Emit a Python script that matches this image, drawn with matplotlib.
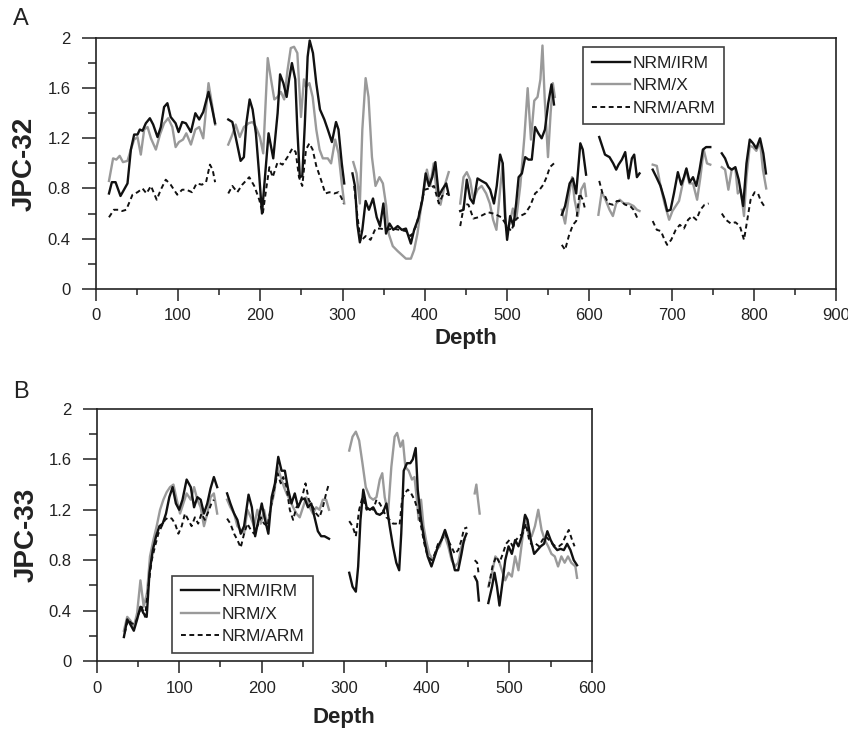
import numpy as np
import matplotlib
matplotlib.use("Agg")
import matplotlib.pyplot as plt
from matplotlib.ticker import MultipleLocator, FuncFormatter
from matplotlib.lines import Line2D

plt.rcParams["font.family"] = ["Liberation Sans", "DejaVu Sans"]

# (depth, ratio) pairs; None marks a gap in the record
# ---- Panel A: JPC-32 ----
A_IRM = [(16, 0.76), (19.5, 0.85), (24, 0.85), (30, 0.74), (38.5, 0.84), (42.6, 1.11), (46.6, 1.23),
         (50.7, 1.23), (53.5, 1.27), (56.8, 1.26), (60.8, 1.32), (65.7, 1.36), (69.7, 1.31), (75, 1.21),
         (79, 1.29), (83, 1.45), (87, 1.48), (91, 1.37), (97, 1.32), (100.6, 1.25), (105, 1.33),
         (109.5, 1.32), (115.6, 1.25), (121, 1.40), (125.7, 1.35), (130.6, 1.41), (137, 1.57), (141, 1.45),
         (145, 1.32), None,
         (161, 1.35), (166, 1.33), (170, 1.21), (176, 1.02), (180, 1.05), (183, 1.32), (187, 1.51),
         (190.6, 1.43), (194.6, 1.24), (198.7, 0.90), (202, 0.60), (206, 0.92), (210, 1.24), (215.7, 1.04),
         (221, 1.40), (224, 1.71), (228, 1.64), (232, 1.53), (235, 1.67), (238.4, 1.80), (242.5, 1.67),
         (245, 1.27), (248, 0.89), (251, 0.90), (254, 1.30), (257.5, 1.85), (260, 1.98), (264, 1.88),
         (268, 1.64), (272.5, 1.43), (277.8, 1.35), (282, 1.27), (287, 1.17), (292, 1.33), (295, 1.27),
         (299, 1.00), (302, 0.84), None,
         (312, 0.92), (315, 0.82), (318, 0.51), (321, 0.37), (324, 0.47), (328, 0.70), (332, 0.63),
         (337, 0.72), (341.5, 0.57), (345.5, 0.50), (349.6, 0.68), (352.8, 0.44), (357, 0.52), (361.7, 0.47),
         (367, 0.50), (372, 0.47), (377, 0.48), (383, 0.36), (387, 0.47), (392, 0.56), (397, 0.71),
         (401, 0.92), (405, 0.82), (409, 0.89), (412.8, 1.01), (417, 0.74), (421, 0.79), (426, 0.84),
         (429, 0.75), None,
         (443, 0.62), (447, 0.63), (451, 0.87), (455, 0.72), (459, 0.68), (464, 0.88), (469, 0.86),
         (474.5, 0.84), (479.4, 0.79), (484, 0.68), (487.4, 0.82), (491.5, 1.07), (494.7, 1.00),
         (497.5, 0.58), (500, 0.39), (503.7, 0.58), (507.7, 0.50), (511, 0.68), (514, 0.89), (518, 0.92),
         (522, 1.05), (526, 1.03), (530, 1.03), (534, 1.29), (538, 1.24), (542, 1.20), (546, 1.27),
         (550, 1.48), (554, 1.63), (557, 1.47), None,
         (566.5, 0.59), (570.5, 0.66), (576, 0.84), (580, 0.88), (584, 0.76), (589, 1.16), (592, 1.11),
         (596, 0.91), None,
         (612, 1.21), (615, 1.15), (619, 1.07), (624.5, 1.05), (629, 1.00), (632.6, 0.95), (635.5, 0.99),
         (639.5, 1.03), (643.6, 1.09), (647.6, 0.88), (651.7, 1.04), (654.5, 1.07), (657.8, 0.89),
         (661, 0.92), None,
         (677, 0.95), (681.5, 0.89), (686.5, 0.82), (691.4, 0.71), (694.6, 0.62), (698.7, 0.63),
         (702.8, 0.76), (707.6, 0.93), (711.7, 0.83), (715, 0.89), (718, 0.96), (722, 0.85), (726, 0.89),
         (730, 0.82), (734, 0.95), (738, 1.11), (742, 1.13), (747, 1.13), None,
         (761, 1.08), (765, 1.04), (769, 0.97), (773, 0.95), (777.5, 0.97), (781.6, 0.87), (787, 0.66),
         (791, 1.00), (795, 1.19), (799, 1.16), (803, 1.12), (807.5, 1.20), (811.5, 1.08), (814.7, 0.92)]

A_X = [(16, 0.86), (21, 1.04), (25, 1.03), (29, 1.06), (33, 1.01), (38.5, 1.02), (42.6, 1.11),
       (46.6, 1.19), (50.7, 1.21), (54.7, 1.07), (58.8, 1.27), (62.9, 1.29), (67, 1.20), (73, 1.11),
       (78, 1.23), (83, 1.32), (88, 1.36), (93, 1.29), (97, 1.13), (101, 1.17), (106, 1.19), (110, 1.24),
       (115.6, 1.15), (121, 1.27), (125.7, 1.29), (130.6, 1.20), (137, 1.64), (141, 1.48), (145, 1.31), None,
       (161, 1.15), (166, 1.23), (170, 1.31), (175, 1.21), (180, 1.29), (185.7, 1.32), (190.6, 1.33),
       (194.6, 1.29), (199.5, 1.21), (203.5, 1.08), (209, 1.84), (213, 1.67), (217, 1.51), (221, 1.53),
       (225, 1.57), (229, 1.51), (233, 1.74), (237, 1.92), (241, 1.93), (245, 1.88), (249.4, 1.37),
       (253, 1.67), (255.5, 1.61), (259.6, 1.64), (263.6, 1.53), (268, 1.27), (272, 1.11), (276, 1.04),
       (282, 1.04), (286, 1.00), (291, 1.19), (295, 1.08), (299, 0.84), (302, 0.68), None,
       (313, 1.01), (317, 0.92), (321, 0.68), (324, 1.27), (328, 1.68), (331.5, 1.53), (335.7, 1.05),
       (340, 0.82), (344.8, 0.89), (349, 0.84), (353, 0.66), (356, 0.44), (361, 0.34), (367, 0.30),
       (372, 0.27), (377, 0.24), (383, 0.24), (387, 0.31), (391, 0.44), (395, 0.63), (399.6, 0.82),
       (402.5, 0.95), (406.6, 0.82), (410.7, 1.00), (414, 0.79), (419, 0.67), (424, 0.82), (429, 0.93), None,
       (443, 0.68), (447, 0.89), (451, 0.93), (455, 0.87), (459, 0.71), (464, 0.79), (469, 0.82),
       (474.5, 0.76), (479, 0.68), (483, 0.55), (487, 0.47), (491.5, 0.79), (494.7, 1.00), (499, 0.47),
       (503, 0.52), (507, 0.64), (511, 0.55), (516, 0.82), (521, 1.21), (525, 1.60), (529, 1.19),
       (533, 1.50), (537, 1.53), (540.5, 1.67), (543, 1.94), (545.6, 1.53), (549.7, 1.05), (552.9, 1.40),
       (555.6, 1.64), (558, 1.53), None,
       (566.5, 0.63), (570.5, 0.52), (575, 0.74), (579, 0.89), (582, 0.71), (586, 0.58), (590, 0.79),
       (594, 0.84), (596, 0.74), None,
       (611, 0.59), (615, 0.77), (619, 0.72), (624.5, 0.63), (628.6, 0.58), (632.6, 0.68), (637, 0.71),
       (642, 0.68), (647.6, 0.68), (653.7, 0.66), (657.8, 0.63), (661, 0.62), None,
       (677, 0.99), (682, 0.98), (686.5, 0.82), (691.4, 0.68), (697, 0.55), (701, 0.62), (705, 0.66),
       (709, 0.70), (713.5, 0.84), (717.6, 0.95), (721.6, 0.84), (726, 0.84), (731, 0.71), (735, 0.89),
       (739, 1.11), (743, 1.00), (747, 0.99), None,
       (761, 0.97), (765, 0.95), (769, 0.79), (773, 0.95), (777.5, 0.96), (780.5, 0.76), (784, 0.79),
       (788, 0.58), (791, 0.89), (795, 1.14), (799, 1.13), (803, 1.10), (807.5, 1.17), (811, 0.95),
       (815, 0.80)]

A_ARM = [(16, 0.57), (22, 0.63), (27.6, 0.63), (32, 0.62), (37, 0.63), (44.6, 0.75), (50.7, 0.77),
         (56.8, 0.80), (61.6, 0.76), (67, 0.82), (74, 0.71), (79, 0.79), (85, 0.87), (91, 0.83), (99, 0.75),
         (105, 0.79), (110, 0.79), (117, 0.77), (122.5, 0.84), (129, 0.83), (134, 0.85), (138.7, 0.99),
         (142, 0.95), (145, 0.85), None,
         (161, 0.76), (166, 0.82), (172, 0.77), (178, 0.83), (186.5, 0.89), (192.6, 0.82), (198.7, 0.71),
         (203, 0.60), (207, 0.79), (211, 0.97), (215, 0.89), (221, 1.01), (227, 0.99), (233, 1.05),
         (239, 1.12), (243, 1.09), (247, 0.89), (251, 0.82), (255.5, 1.11), (259.6, 1.16), (263.6, 1.11),
         (268, 0.98), (273.7, 0.87), (279, 0.76), (284, 0.77), (290, 0.76), (295, 0.77), (299, 0.72),
         (301, 0.68), None,
         (314, 0.82), (318, 0.58), (322, 0.38), (328, 0.42), (334, 0.39), (340, 0.48), (346, 0.48),
         (353, 0.47), (361, 0.48), (369, 0.47), (377, 0.46), (383, 0.42), (389.5, 0.50), (394, 0.63),
         (399.6, 0.79), (405, 0.80), (411, 0.82), (417, 0.68), (422, 0.75), (429, 0.76), None,
         (443, 0.50), (448, 0.68), (453, 0.67), (459, 0.56), (465, 0.57), (471, 0.59), (477, 0.61),
         (483, 0.60), (487, 0.59), (493, 0.57), (500, 0.50), (505, 0.46), (510, 0.55), (516, 0.58),
         (522, 0.60), (528, 0.66), (534, 0.76), (539.5, 0.79), (544, 0.83), (548, 0.89), (552, 0.97),
         (557, 1.00), None,
         (566.5, 0.35), (570.5, 0.31), (575, 0.42), (580, 0.51), (584, 0.54), (588, 0.76), (592, 0.71),
         (595, 0.63), None,
         (612, 0.86), (616, 0.76), (619, 0.74), (623, 0.68), (628.6, 0.67), (633.5, 0.70), (638, 0.70),
         (643.6, 0.67), (649.6, 0.66), (653.7, 0.63), (658.6, 0.56), None,
         (677, 0.54), (682, 0.47), (687, 0.46), (691.4, 0.39), (694.6, 0.35), (699.5, 0.39), (705, 0.47),
         (710, 0.51), (715, 0.48), (720, 0.55), (725, 0.58), (730, 0.55), (735, 0.63), (740, 0.67),
         (745, 0.68), None,
         (761, 0.60), (766, 0.55), (772, 0.52), (777.5, 0.53), (783, 0.50), (788, 0.39), (792, 0.55),
         (796, 0.71), (801, 0.77), (805, 0.76), (808.5, 0.70), (812.5, 0.66)]

# ---- Panel B: JPC-33 ----
B_IRM = [(33, 0.19), (37, 0.33), (40, 0.30), (45, 0.24), (49, 0.33), (53, 0.43), (56.6, 0.38),
         (60.6, 0.35), (64, 0.70), (68, 0.88), (72, 0.99), (76, 1.07), (80, 1.09), (84, 1.17), (88, 1.30),
         (92, 1.38), (96, 1.25), (100, 1.20), (104, 1.28), (109, 1.44), (114, 1.38), (118, 1.22),
         (122, 1.30), (126, 1.28), (130, 1.17), (134, 1.25), (138, 1.37), (142, 1.46), (146, 1.38), None,
         (158, 1.33), (162, 1.25), (166.5, 1.17), (170.5, 1.12), (174.5, 1.01), (178.6, 1.07), (184, 1.32),
         (188, 1.22), (192, 0.99), (196, 1.12), (200, 1.25), (204, 1.12), (208, 1.01), (212, 1.30),
         (216, 1.41), (220, 1.62), (224, 1.51), (228, 1.51), (232, 1.36), (236, 1.25), (240, 1.33),
         (244, 1.22), (248, 1.28), (252, 1.29), (256, 1.22), (260, 1.25), (264, 1.14), (268, 1.03),
         (272, 0.99), (276, 0.99), (281.5, 0.97), None,
         (306, 0.70), (310, 0.59), (314, 0.55), (316.8, 0.75), (319.6, 1.12), (323, 1.36), (327, 1.22),
         (331, 1.20), (335, 1.22), (339, 1.17), (343, 1.16), (347, 1.18), (351, 1.25), (355, 1.07),
         (359, 0.91), (363, 0.78), (366.5, 0.72), (369, 1.01), (372, 1.51), (376, 1.57), (380, 1.57),
         (383, 1.60), (386.5, 1.69), (389, 1.36), (393, 1.12), (397, 0.96), (401, 0.83), (405.6, 0.75),
         (409.6, 0.83), (413.6, 0.91), (417.6, 0.96), (422, 1.04), (426, 0.96), (430, 0.83), (434, 0.72),
         (438, 0.72), (442, 0.85), (445, 0.96), (448, 1.01), None,
         (458, 0.67), (461, 0.63), (463, 0.48), None,
         (474.5, 0.46), (479, 0.59), (482, 0.70), (485, 0.59), (488, 0.44), (492, 0.64), (495, 0.80),
         (499, 0.91), (503, 0.85), (507, 0.96), (511, 0.91), (515, 0.99), (519, 1.16), (522, 1.12),
         (526, 0.96), (530, 0.85), (534, 0.88), (538, 0.91), (542, 0.93), (546, 1.03), (550, 0.96),
         (554, 0.91), (558, 0.88), (562, 0.89), (566, 0.88), (570, 0.93), (574, 0.88), (578, 0.80),
         (582, 0.76)]

B_X = [(33, 0.24), (37, 0.35), (41, 0.32), (45, 0.27), (49, 0.38), (53, 0.64), (57, 0.43), (61, 0.54),
       (64.6, 0.83), (68.7, 0.96), (72.7, 1.07), (76.8, 1.20), (80.8, 1.28), (84.8, 1.34), (88.9, 1.38),
       (93, 1.40), (97, 1.28), (101, 1.17), (105, 1.25), (109, 1.33), (114, 1.28), (118, 1.38), (122, 1.28),
       (126, 1.22), (130, 1.07), (134, 1.17), (138, 1.30), (142, 1.33), (146, 1.17), None,
       (158, 1.28), (162, 1.22), (166.5, 1.17), (170.5, 1.07), (174.5, 1.04), (178.6, 1.01), (182.6, 1.20),
       (186.7, 1.14), (190.7, 1.07), (194.7, 1.20), (198.8, 1.09), (202.8, 1.20), (206.9, 1.07), (211, 1.22),
       (215, 1.33), (219, 1.54), (223, 1.46), (227, 1.38), (230, 1.33), (234, 1.28), (238, 1.22),
       (242, 1.17), (246, 1.14), (250, 1.22), (254, 1.30), (258, 1.22), (262, 1.17), (266, 1.22),
       (270, 1.20), (274, 1.28), (278, 1.28), (281.5, 1.20), None,
       (306, 1.67), (310, 1.78), (314, 1.82), (318, 1.75), (322, 1.57), (326, 1.38), (331, 1.30),
       (335, 1.28), (339, 1.30), (343, 1.44), (346, 1.49), (349, 1.30), (353, 1.17), (357, 1.54),
       (361, 1.78), (364, 1.81), (368, 1.70), (371, 1.75), (374, 1.54), (378, 1.51), (382, 1.44),
       (385, 1.46), (388, 1.28), (390, 1.12), (393, 1.28), (396, 1.07), (399, 0.96), (403, 0.85),
       (407.6, 0.80), (411.6, 0.88), (415.6, 0.91), (419.6, 0.99), (422, 0.99), (426, 0.91), (430, 0.80),
       (434, 0.75), (438, 0.78), (442, 0.91), (446, 0.96), None,
       (458, 1.33), (460, 1.40), (462, 1.28), (464, 1.17), None,
       (474.5, 0.59), (479, 0.70), (483, 0.83), (487, 0.80), (491, 0.72), (495, 0.64), (499, 0.70),
       (503, 0.67), (507, 0.83), (511, 0.72), (515, 0.93), (519, 1.15), (523, 1.01), (527, 0.99),
       (531, 1.07), (535, 1.20), (539, 1.04), (543, 0.96), (547, 0.91), (551, 0.85), (555, 0.83),
       (559, 0.75), (563, 0.83), (567, 0.78), (571, 0.83), (575, 0.78), (580, 0.75), (582, 0.66)]

B_ARM = [(34, 0.22), (38, 0.33), (42, 0.30), (46.5, 0.29), (50.5, 0.37), (54.5, 0.43), (58.6, 0.35),
         (62.6, 0.59), (66.7, 0.80), (70.7, 0.91), (74.7, 1.01), (78.8, 1.07), (82.8, 1.12), (86.9, 1.14),
         (91, 1.13), (95, 1.09), (99, 1.01), (103, 1.07), (107, 1.17), (111, 1.12), (115, 1.07), (119, 1.14),
         (123, 1.09), (127, 1.17), (131, 1.12), (135, 1.18), (139, 1.25), (142, 1.28), None,
         (158, 1.13), (162, 1.09), (166.5, 1.01), (170.5, 0.96), (174.5, 0.90), (178.6, 1.01), (182.6, 1.09),
         (186.7, 1.04), (190.7, 1.01), (194.7, 1.07), (198.8, 1.14), (202.8, 1.09), (207, 1.07), (211, 1.22),
         (215, 1.36), (219, 1.49), (223, 1.41), (226, 1.46), (230, 1.38), (234, 1.20), (238, 1.12),
         (242, 1.22), (246, 1.25), (250, 1.33), (253, 1.41), (257, 1.28), (262, 1.22), (266, 1.17),
         (270, 1.14), (274, 1.22), (278, 1.33), (281.5, 1.41), None,
         (306, 1.11), (310, 1.07), (314, 0.99), (318, 1.20), (322, 1.30), (327, 1.20), (331, 1.22),
         (335, 1.20), (339, 1.28), (343, 1.25), (347, 1.20), (351, 1.14), (355, 1.12), (359, 1.09),
         (363, 1.09), (367, 1.08), (370, 1.28), (373, 1.33), (377, 1.36), (381, 1.33), (385, 1.28),
         (389, 1.20), (393, 1.07), (397, 0.93), (401, 0.83), (405.6, 0.80), (409.6, 0.85), (413.6, 0.93),
         (417.6, 0.96), (422, 1.01), (428, 0.93), (434, 0.85), (438, 0.88), (442, 0.96), (445, 1.05),
         (449, 1.06), None,
         (458, 0.80), (461, 0.78), (463, 0.68), None,
         (475, 0.59), (479.5, 0.75), (484, 0.83), (488, 0.78), (492, 0.85), (496, 0.93), (500, 0.96),
         (504, 0.91), (508, 0.96), (512, 0.99), (516, 1.01), (520, 1.09), (524, 0.96), (528, 0.91),
         (532, 0.93), (536, 0.91), (540, 0.96), (544, 0.99), (548, 0.96), (552, 0.93), (556, 0.91),
         (560, 0.91), (564, 0.93), (568, 0.99), (572, 1.04), (576, 0.96), (579, 0.91)]

LABELS = ["NRM/IRM", "NRM/X", "NRM/ARM"]

BLACK = "#111111"
GRAY = "#9a9a9a"
TEXT = "#222222"


def to_xy(pairs):
    """Turn (depth, value) pairs into arrays, None -> NaN break."""
    d = np.array([np.nan if p is None else p[0] for p in pairs], dtype=float)
    v = np.array([np.nan if p is None else p[1] for p in pairs], dtype=float)
    return d, v


def draw_panel(ax, irm, x, arm):
    ax.plot(*to_xy(x), color=GRAY, lw=1.7, solid_joinstyle="round")
    ax.plot(*to_xy(irm), color=BLACK, lw=1.7, solid_joinstyle="round")
    ax.plot(*to_xy(arm), color=BLACK, lw=1.4, ls=(0, (2.5, 1.8)))


def style_axes(ax, xmax, ylabel, ylabel_x, xlabel_y):
    ax.set_xlim(0, xmax)
    ax.set_ylim(0, 2)
    ax.xaxis.set_major_locator(MultipleLocator(100))
    ax.xaxis.set_minor_locator(MultipleLocator(50))
    ax.yaxis.set_major_locator(MultipleLocator(0.4))
    ax.yaxis.set_minor_locator(MultipleLocator(0.2))
    ax.yaxis.set_major_formatter(FuncFormatter(lambda v, p: f"{v:g}"))
    ax.tick_params(which="both", direction="out", top=False, right=False,
                   colors=TEXT, width=1.1, labelsize=12)
    ax.tick_params(axis="x", which="major", length=8.6, pad=5.5)
    ax.tick_params(axis="x", which="minor", length=4.3)
    ax.tick_params(axis="y", which="major", length=10, pad=8)
    ax.tick_params(axis="y", which="minor", length=6)
    for s in ax.spines.values():
        s.set_linewidth(1.2)
        s.set_color(TEXT)
    ax.set_ylabel(ylabel, fontsize=20, fontweight="bold", color=TEXT)
    ax.yaxis.set_label_coords(ylabel_x, 0.5)
    ax.set_xlabel("Depth", fontsize=16, fontweight="bold", color=TEXT)
    ax.xaxis.set_label_coords(0.5, xlabel_y)


def add_legend(ax, **kw):
    handles = [Line2D([], [], color=BLACK, lw=1.7),
               Line2D([], [], color=GRAY, lw=1.7),
               Line2D([], [], color=BLACK, lw=1.4, ls=(0, (2.5, 1.8)))]
    leg = ax.legend(handles, LABELS, fontsize=12.5, frameon=True, fancybox=False,
                    handlelength=2.2, handletextpad=0.15, labelspacing=0.42,
                    borderpad=0.5, borderaxespad=0, **kw)
    leg.get_frame().set_edgecolor(BLACK)
    leg.get_frame().set_linewidth(1.2)
    for t in leg.get_texts():
        t.set_color(TEXT)


fig = plt.figure(figsize=(8.48, 7.31), dpi=100)

axA = fig.add_axes([0.113, 0.605, 0.873, 0.343])
draw_panel(axA, A_IRM, A_X, A_ARM)
style_axes(axA, 900, "JPC-32", -0.078, -0.158)
add_legend(axA, loc="upper left", bbox_to_anchor=(0.658, 0.964))

axB = fig.add_axes([0.114, 0.0958, 0.584, 0.3447])
draw_panel(axB, B_IRM, B_X, B_ARM)
style_axes(axB, 600, "JPC-33", -0.115, -0.183)
add_legend(axB, loc="lower left", bbox_to_anchor=(0.152, 0.032))

fig.text(20.5 / 848, 1 - 19 / 731, "A", fontsize=17, ha="center", va="center", color=TEXT)
fig.text(20.5 / 848, 1 - 392 / 731, "B", fontsize=17, ha="center", va="center", color=TEXT)

fig.savefig("out.png", dpi=100)
